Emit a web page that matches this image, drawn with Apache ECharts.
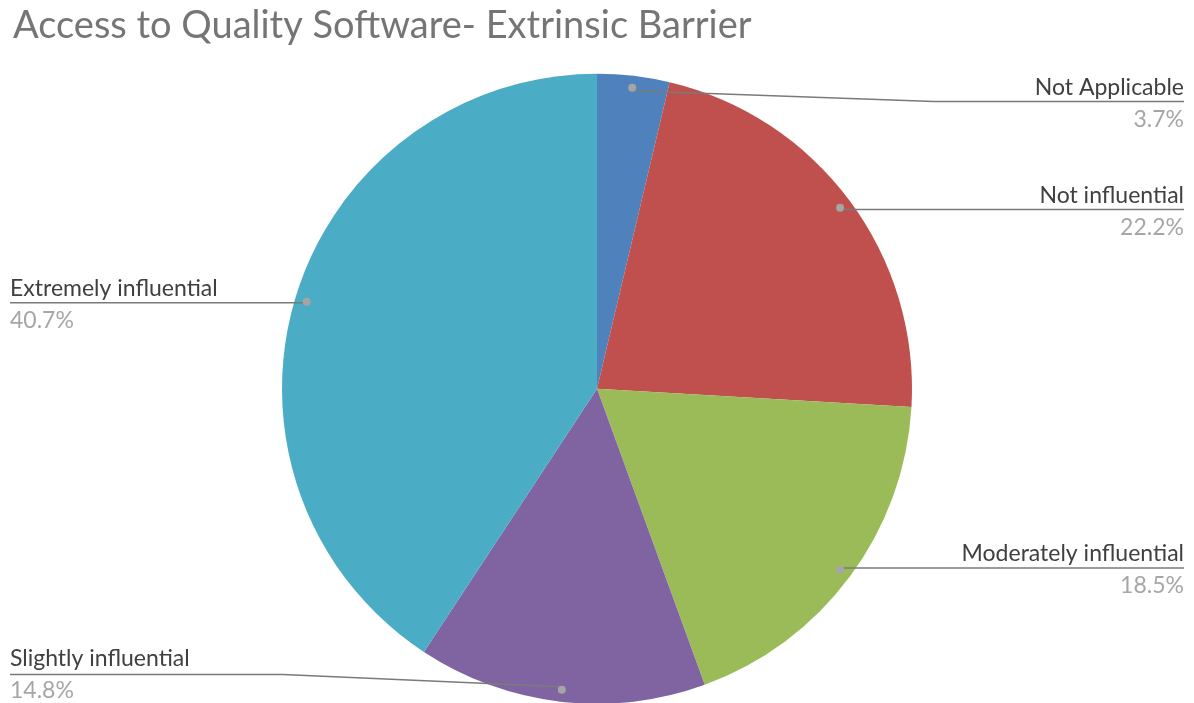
<!DOCTYPE html>
<html>
<head>
<meta charset="utf-8">
<script src="https://cdn.jsdelivr.net/npm/echarts@6/dist/echarts.min.js"></script>
<style>
  html, body { margin: 0; padding: 0; background: #ffffff; }
  #chart { width: 1194px; height: 703px; }
</style>
</head>
<body>
<div id="chart"></div>
<script>
// Survey responses (% of respondents)
const categories = ['Not Applicable', 'Not influential', 'Moderately influential', 'Slightly influential', 'Extremely influential'];
const shares = [3.7, 22.2, 18.5, 14.8, 40.7];
const sliceColors = ['#4F81BD', '#C0504D', '#9BBB59', '#8064A2', '#4BACC6'];
const titleText = 'Access to Quality Software- Extrinsic Barrier';

const FONT = 'Lato, "Noto Sans", sans-serif';
const chart = echarts.init(document.getElementById('chart'), null, { renderer: 'canvas' });

const pieData = categories.map((name, i) => ({ name, value: shares[i], itemStyle: { color: sliceColors[i] } }));
const ghostData = categories.map((name, i) => ({ name, value: shares[i] }));

const CENTER = ['50%', '55.3%'];
const LABEL_TOP_LIMIT = 74;

// Route each leader line from its slice anchor (where the dot sits), under the
// label text to its outer edge, and keep labels inside the drawing area.
function leaderLayout(p) {
  const pts = p.labelLinePoints;
  if (!pts) return {};
  const r = p.labelRect;
  const start = pts[0];
  const right = r.x + r.width / 2 > start[0];
  const far = right ? r.x + r.width : r.x;
  const near = right ? r.x : r.x + r.width;
  const h = chart.getHeight();
  let shift = 0;
  if (r.y + r.height > h) shift = h - (r.y + r.height);
  if (r.y < LABEL_TOP_LIMIT) shift = LABEL_TOP_LIMIT - r.y;
  const y = r.y + r.height / 2 + shift;
  const out = {};
  if (shift !== 0) out.y = y;
  let points;
  if (Math.abs(y - start[1]) > 3) {
    const bendX = near + (start[0] - near) * 0.25;
    points = [start, [bendX, y], [far, y]];
  } else {
    points = [start, [far, start[1]]];
  }
  out.labelLinePoints = points;
  return out;
}

chart.setOption({
  backgroundColor: '#ffffff',
  animation: false,
  title: {
    text: titleText,
    left: 8,
    top: 2,
    textStyle: { fontFamily: FONT, fontSize: 38, fontWeight: 'normal', color: '#757575' }
  },
  series: [
    {
      // coloured slices
      type: 'pie',
      center: CENTER,
      radius: 315,
      silent: true,
      z: 2,
      label: { show: false },
      labelLine: { show: false },
      itemStyle: { borderWidth: 0 },
      data: pieData
    },
    {
      // labels + leader lines
      type: 'pie',
      center: CENTER,
      radius: 300,
      silent: true,
      z: 4,
      itemStyle: { color: 'rgba(0,0,0,0)', borderWidth: 0 },
      label: {
        show: true,
        position: 'outer',
        alignTo: 'edge',
        edgeDistance: 10,
        formatter: '{n|{b}}\n{v|{c}%}',
        rich: {
          n: { fontFamily: FONT, fontSize: 23, color: '#404040', lineHeight: 36 },
          v: { fontFamily: FONT, fontSize: 23, color: '#a6a6a6', lineHeight: 28 }
        }
      },
      labelLine: {
        show: true,
        length: 0,
        length2: 20,
        smooth: false,
        lineStyle: { color: '#7a7a7a', width: 1.5 }
      },
      labelLayout: leaderLayout,
      data: ghostData
    },
    {
      // dots at the start of each leader line
      type: 'pie',
      center: CENTER,
      radius: [296, 304],
      silent: true,
      z: 6,
      itemStyle: { color: 'rgba(0,0,0,0)', borderWidth: 0 },
      label: {
        show: true,
        position: 'inside',
        formatter: '{d| }',
        rich: { d: { width: 8, height: 8, borderRadius: 4, backgroundColor: '#a5a5a5', fontSize: 1 } }
      },
      labelLine: { show: false },
      data: ghostData
    }
  ]
});
</script>
</body>
</html>
